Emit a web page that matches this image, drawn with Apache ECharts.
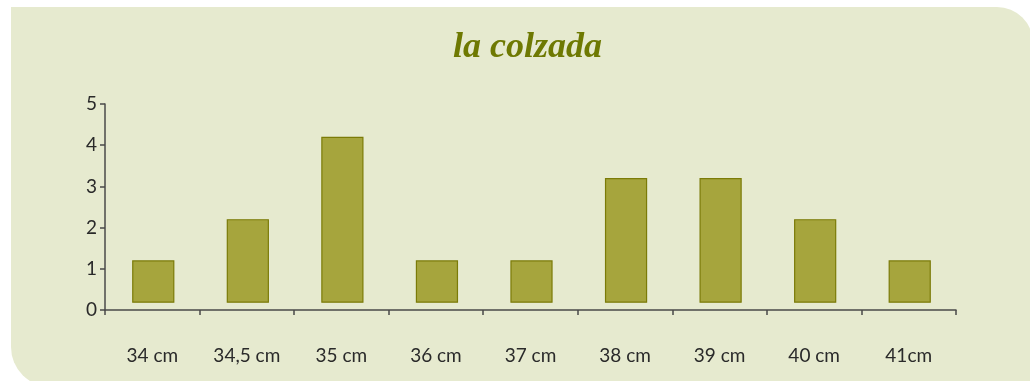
<!DOCTYPE html>
<html>
<head>
<meta charset="utf-8">
<title>la colzada</title>
<script src="https://cdn.jsdelivr.net/npm/echarts@6/dist/echarts.min.js"></script>
<style>
  html, body { margin: 0; padding: 0; background: #ffffff; }
  #chart { width: 1030px; height: 381px; }
</style>
</head>
<body>
<div id="chart"></div>
<script>
// Plant heights (categories) and how many plants reached each one
const categories = ['34 cm', '34,5 cm', '35 cm', '36 cm', '37 cm', '38 cm', '39 cm', '40 cm', '41cm'];
const counts = [1, 2, 4, 1, 1, 3, 3, 2, 1];
const yTicks = [0, 1, 2, 3, 4, 5];

// Bars sit slightly above the baseline
const BAR_LIFT = 0.19;

const chart = echarts.init(document.getElementById('chart'));

const labelFont = 'Lato, "DejaVu Sans", sans-serif';

chart.setOption({
  animation: false,
  backgroundColor: '#ffffff',
  graphic: [{
    type: 'rect',
    z: -10,
    shape: { x: 11, y: 7, width: 1022, height: 380, r: [0, 36, 0, 40] },
    style: { fill: '#e6eacf' }
  }],
  title: {
    text: 'la colzada',
    left: 448,
    top: 25,
    textStyle: {
      fontFamily: '"Liberation Serif", "DejaVu Serif", serif',
      fontStyle: 'italic',
      fontWeight: 'bold',
      fontSize: 36,
      color: '#6e7902'
    }
  },
  grid: { left: 105, right: 74, top: 104, bottom: 71 },
  xAxis: {
    type: 'category',
    data: categories,
    boundaryGap: true,
    axisLine: { lineStyle: { color: '#4a4a4a', width: 1.5 } },
    axisTick: { show: true, length: 5, alignWithLabel: false, lineStyle: { color: '#4a4a4a', width: 1.5 } },
    axisLabel: { margin: 36, fontFamily: labelFont, fontSize: 19, color: '#2a2a2a' }
  },
  yAxis: {
    type: 'value',
    min: yTicks[0],
    max: yTicks[yTicks.length - 1],
    interval: 1,
    splitLine: { show: false },
    axisLine: { show: true, lineStyle: { color: '#4a4a4a', width: 1.5 } },
    axisTick: { show: true, length: 5, lineStyle: { color: '#4a4a4a', width: 1.5 } },
    axisLabel: { margin: 8, fontFamily: labelFont, fontSize: 19, color: '#2a2a2a' }
  },
  series: [{
    type: 'custom',
    data: counts.map((v, i) => [i, v]),
    renderItem: function (params, api) {
      const i = api.value(0);
      const bottom = api.coord([i, BAR_LIFT]);
      const top = api.coord([i, BAR_LIFT + api.value(1)]);
      const w = api.size([1, 0])[0] * 0.434;
      return {
        type: 'rect',
        shape: { x: bottom[0] - w / 2 + 1, y: top[1], width: w, height: bottom[1] - top[1] },
        style: { fill: '#a6a53d', stroke: '#7b7b08', lineWidth: 1.2 }
      };
    }
  }]
});
</script>
</body>
</html>
